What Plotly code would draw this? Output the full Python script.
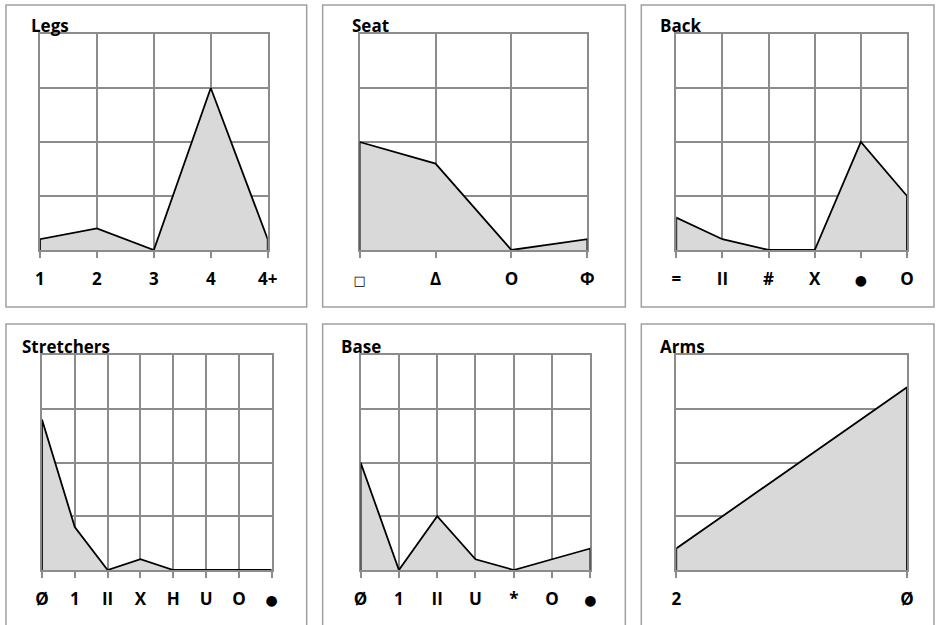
import plotly.graph_objects as go

# Chair feature counts (19 chairs), one small area chart per feature
legs_cats = ["1", "2", "3", "4", "4+"]
legs_vals = [1, 2, 0, 15, 1]

seat_cats = ["□", "Δ", "O", "Φ"]
seat_vals = [10, 8, 0, 1]

back_cats = ["=", "II", "#", "X", "●", "O"]
back_vals = [3, 1, 0, 0, 10, 5]

stretch_cats = ["Ø", "1", "II", "X", "H", "U", "O", "●"]
stretch_vals = [14, 4, 0, 1, 0, 0, 0, 0]

base_cats = ["Ø", "1", "II", "U", "*", "O", "●"]
base_vals = [10, 0, 5, 1, 0, 1, 2]

arms_cats = ["2", "Ø"]
arms_vals = [2, 17]

W, H = 937, 625
# horizontal extent actually occupied by the plotting surface on the page
X_OFFSET, X_SPAN = 8, 921
FONT = "'Open Sans', 'DejaVu Sans', sans-serif"
GRID = "#8c8c8c"
FRAME = "#a0a0a0"

# symbol glyphs drawn a little smaller than the letters
SMALL_GLYPHS = {
    "□": "<span style='font-size:13px;font-weight:normal'>□</span>",
    "●": "<span style='font-size:14px'>●</span>",
}

panels = [
    # title, cats, vals, plot box (px: x0, x1, y0, y1), frame box, title pos
    ("Legs", legs_cats, legs_vals, (41, 269, 34, 250), (7, 308, 5, 307), (30, 25)),
    ("Seat", seat_cats, seat_vals, (361, 589, 34, 250), (324, 627, 5, 307), (351, 25)),
    ("Back", back_cats, back_vals, (678, 909, 34, 250), (643, 936, 5, 307), (660, 25)),
    ("Stretchers", stretch_cats, stretch_vals, (43, 273, 355, 570), (7, 308, 324, 640), (21, 346)),
    ("Base", base_cats, base_vals, (362, 592, 355, 570), (324, 627, 324, 640), (340, 346)),
    ("Arms", arms_cats, arms_vals, (678, 909, 355, 570), (643, 936, 324, 640), (660, 346)),
]


def px(x):
    return (x - X_OFFSET) / X_SPAN


def py(y):
    return 1 - y / H


fig = go.Figure()
shapes = []
annotations = []

for i, (title, cats, vals, box, frame, tpos) in enumerate(panels):
    n = i + 1
    xa = "x" if n == 1 else f"x{n}"
    ya = "y" if n == 1 else f"y{n}"
    # outline closed down to zero at both ends, filled like an area chart
    xs = [cats[0]] + list(cats) + [cats[-1]]
    ys = [0] + list(vals) + [0]
    fig.add_trace(go.Scatter(
        x=xs, y=ys, mode="lines", fill="toself",
        fillcolor="#d9d9d9", line=dict(color="black", width=1.8),
        xaxis=xa, yaxis=ya, showlegend=False, hoverinfo="skip",
    ))
    x0, x1, y0, y1 = box
    xkey = "xaxis" if n == 1 else f"xaxis{n}"
    ykey = "yaxis" if n == 1 else f"yaxis{n}"
    fig.update_layout(**{
        xkey: dict(
            domain=[px(x0), px(x1)], anchor=ya, type="category",
            categoryorder="array", categoryarray=cats,
            tickmode="array", tickvals=cats,
            ticktext=[SMALL_GLYPHS.get(c, c) for c in cats],
            range=[0, len(cats) - 1], showgrid=True, gridcolor=GRID, gridwidth=1.5,
            showline=True, linecolor=GRID, linewidth=1.5, mirror=True,
            ticks="outside", ticklen=6, tickcolor=GRID, tickwidth=1.5,
            ticklabelstandoff=7,
            tickfont=dict(family=FONT, size=17, color="black", weight="bold"),
            layer="below traces", zeroline=False, fixedrange=True,
        ),
        ykey: dict(
            domain=[py(y1), py(y0)], anchor=xa, range=[0, 20], dtick=5,
            showgrid=True, gridcolor=GRID, gridwidth=1.5,
            showline=True, linecolor=GRID, linewidth=1.5, mirror=True,
            showticklabels=False, ticks="", zeroline=False,
            layer="below traces", fixedrange=True,
        ),
    })
    fx0, fx1, fy0, fy1 = frame
    shapes.append(dict(
        type="rect", xref="paper", yref="paper",
        x0=px(fx0), x1=px(fx1), y0=py(fy1), y1=py(fy0),
        line=dict(color=FRAME, width=1.5), fillcolor="rgba(0,0,0,0)", layer="below",
    ))
    annotations.append(dict(
        text=title, xref="paper", yref="paper", x=px(tpos[0]), y=py(tpos[1]),
        xanchor="left", yanchor="middle", showarrow=False,
        font=dict(family=FONT, size=17, color="black", weight="bold"),
    ))

fig.update_layout(
    width=W, height=H, autosize=False, margin=dict(l=0, r=0, t=0, b=0),
    paper_bgcolor="white", plot_bgcolor="white",
    shapes=shapes, annotations=annotations, showlegend=False,
)

fig.write_html("out.html")
